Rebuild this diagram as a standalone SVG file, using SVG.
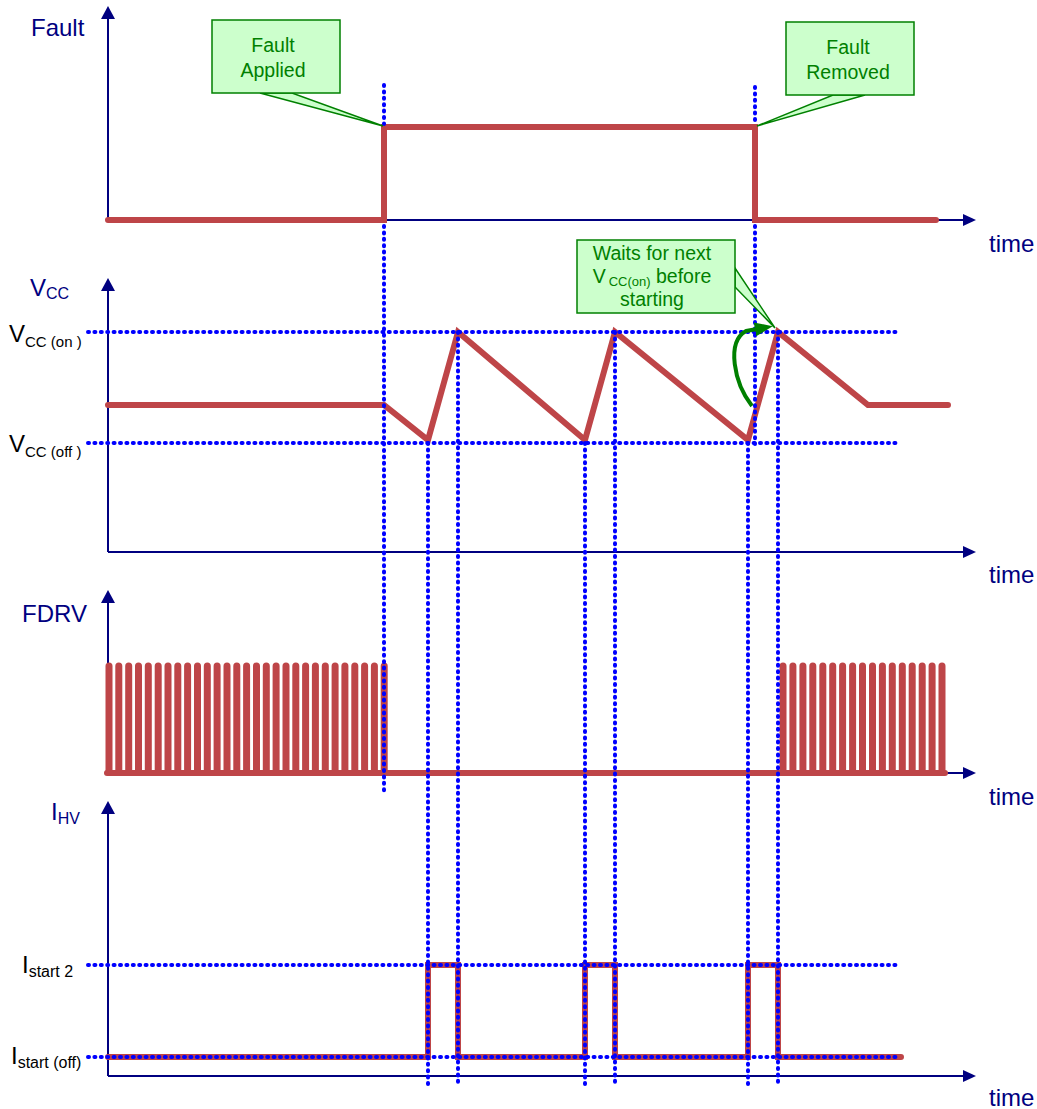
<svg xmlns="http://www.w3.org/2000/svg" width="1037" height="1109" viewBox="0 0 1037 1109">
<style>
.ax{stroke:#000080;stroke-width:2;fill:none}
.ah{fill:#000080}
.tr{stroke:#be4548;stroke-width:6;fill:none;stroke-linecap:round;stroke-linejoin:miter}
.bar{stroke:#be4548;stroke-width:7;fill:none;stroke-linecap:round}
.dot{stroke:#0000ff;stroke-width:4;fill:none;stroke-linecap:round;stroke-dasharray:1 5.4}
.lbl{font-family:"Liberation Sans",Arial,sans-serif;fill:#000080;font-size:24px}
.blk{font-family:"Liberation Sans",Arial,sans-serif;fill:#000000;font-size:24px}
.co{fill:#ccffcc;stroke:#008000;stroke-width:1.5}
.cot{font-family:"Liberation Sans",Arial,sans-serif;fill:#008000;font-size:19.5px;text-anchor:middle}
</style>
<defs>
<marker id="garrow" markerWidth="18" markerHeight="14" refX="2" refY="7" orient="auto" markerUnits="userSpaceOnUse" viewBox="0 0 18 14">
<path d="M0,0 L18,7 L0,14 Z" fill="#008000"/>
</marker>
</defs>
<rect width="1037" height="1109" fill="#ffffff"/>

<g id="axes">
<line class="ax" x1="108" y1="16" x2="108" y2="220"/>
<polygon class="ah" points="108,6 101,19 115,19"/>
<line class="ax" x1="108" y1="220" x2="965" y2="220"/>
<polygon class="ah" points="976,220 963,214 963,226"/>
<line class="ax" x1="108" y1="288" x2="108" y2="552"/>
<polygon class="ah" points="108,278 101,291 115,291"/>
<line class="ax" x1="108" y1="552" x2="965" y2="552"/>
<polygon class="ah" points="976,552 963,546 963,558"/>
<line class="ax" x1="108" y1="600" x2="108" y2="773"/>
<polygon class="ah" points="108,590 101,603 115,603"/>
<line class="ax" x1="108" y1="773" x2="965" y2="773"/>
<polygon class="ah" points="976,773 963,767 963,779"/>
<line class="ax" x1="108" y1="810" x2="108" y2="1076"/>
<polygon class="ah" points="108,801 101,814 115,814"/>
<line class="ax" x1="108" y1="1076" x2="965" y2="1076"/>
<polygon class="ah" points="976,1076 963,1070 963,1082"/>
</g>

<g id="labels">
<text id="lbl-fault" class="lbl" x="31" y="36">Fault</text>
<text id="lbl-vcc" class="lbl" x="30" y="296">V<tspan font-size="16" dy="3">CC</tspan></text>
<text id="lbl-fdrv" class="lbl" x="22" y="622">FDRV</text>
<text id="lbl-ihv" class="lbl" x="51" y="820">I<tspan font-size="16" dy="4">HV</tspan></text>
<text class="lbl" x="989" y="252">time</text>
<text class="lbl" x="989" y="583">time</text>
<text class="lbl" x="989" y="805">time</text>
<text class="lbl" x="989" y="1106">time</text>
<text class="blk" x="9" y="342">V<tspan font-size="15" dy="5">CC (on )</tspan></text>
<text class="blk" x="9" y="452">V<tspan font-size="15" dy="5">CC (off )</tspan></text>
<text class="blk" x="22" y="973" font-size="25">I<tspan font-size="16" dy="4">start 2</tspan></text>
<text class="blk" x="11" y="1064" font-size="25">I<tspan font-size="16" dy="4">start (off)</tspan></text>
</g>

<g id="traces">
<polyline id="fault-trace" class="tr" points="108,220 384,220 384,127 755,127 755,220 936,220"/>
<polyline id="vcc-trace" class="tr" points="108,405 384,405 428,440 458,332 585,440 615,332 748,440 778,332 868,405 948,405"/>
<path id="fdrv-bars" class="bar" d="M109 772V666M118.8 772V666M128.7 772V666M138.5 772V666M148.3 772V666M158.2 772V666M168 772V666M177.8 772V666M187.6 772V666M197.5 772V666M207.3 772V666M217.1 772V666M227 772V666M236.8 772V666M246.6 772V666M256.5 772V666M266.3 772V666M276.1 772V666M286 772V666M295.8 772V666M305.6 772V666M315.4 772V666M325.3 772V666M335.1 772V666M344.9 772V666M354.8 772V666M364.6 772V666M374.4 772V666M384.2 772V666M783 772V666M792.9 772V666M802.9 772V666M812.8 772V666M822.8 772V666M832.7 772V666M842.6 772V666M852.6 772V666M862.5 772V666M872.5 772V666M882.4 772V666M892.3 772V666M902.3 772V666M912.2 772V666M922.2 772V666M932.1 772V666M942 772V666"/>
<line class="tr" x1="107" y1="773" x2="945" y2="773"/>
<polyline id="ihv-trace" class="tr" points="108,1057 428,1057 428,965 458,965 458,1057 585,1057 585,965 615,965 615,1057 748,1057 748,965 778,965 778,1057 901,1057"/>
</g>

<g id="gridlines">
<line class="dot" x1="88" y1="332" x2="898" y2="332"/>
<line class="dot" x1="88" y1="443" x2="898" y2="443"/>
<line class="dot" x1="88" y1="965" x2="898" y2="965"/>
<line class="dot" x1="88" y1="1057" x2="898" y2="1057"/>
<line class="dot" x1="384" y1="85" x2="384" y2="124"/>
<line class="dot" x1="384" y1="226" x2="384" y2="792"/>
<line class="dot" x1="755" y1="87" x2="755" y2="124"/>
<line class="dot" x1="755" y1="226" x2="755" y2="444"/>
<line class="dot" x1="428" y1="443" x2="428" y2="1085"/>
<line class="dot" x1="458" y1="332" x2="458" y2="1085"/>
<line class="dot" x1="585" y1="443" x2="585" y2="1085"/>
<line class="dot" x1="615" y1="332" x2="615" y2="1085"/>
<line class="dot" x1="748" y1="443" x2="748" y2="1085"/>
<line class="dot" x1="778" y1="332" x2="778" y2="1085"/>
</g>

<g id="callout-fault-applied">
<polygon class="co" points="260,93 292,93 383,126"/>
<rect class="co" x="212" y="20" width="128" height="73"/>
<text class="cot" x="273" y="52">Fault</text>
<text class="cot" x="273" y="77">Applied</text>
</g>

<g id="callout-fault-removed">
<polygon class="co" points="833,95 865,95 757,126"/>
<rect class="co" x="786" y="22" width="128" height="73"/>
<text class="cot" x="848" y="54">Fault</text>
<text class="cot" x="848" y="79">Removed</text>
</g>

<g id="callout-waits">
<polygon class="co" points="735,268 735,287 775,328"/>
<rect class="co" x="577" y="240" width="158" height="73"/>
<text class="cot" x="652" y="260">Waits for next</text>
<text class="cot" x="652" y="283">V<tspan font-size="13" dx="3" dy="3">CC(on)</tspan><tspan dy="-3"> before</tspan></text>
<text class="cot" x="652" y="306">starting</text>
</g>

<g id="connectors">
<path d="M752,406 C734,383 726,342 746,331 L757,329" fill="none" stroke="#008000" stroke-width="4" stroke-linejoin="round" marker-end="url(#garrow)"/>
</g>
</svg>
